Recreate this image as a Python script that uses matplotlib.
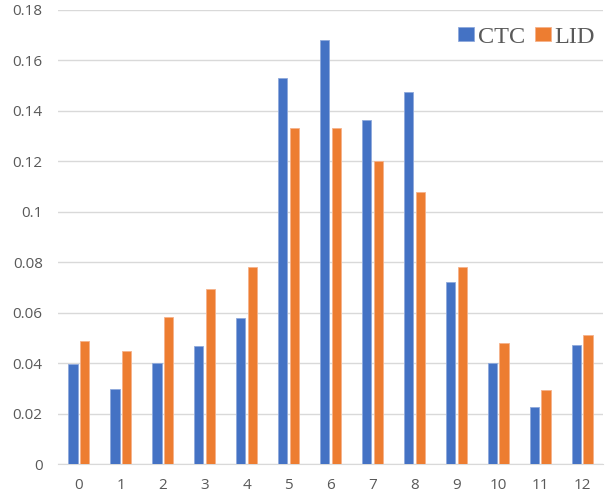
import matplotlib
matplotlib.use("Agg")
import matplotlib.pyplot as plt
import numpy as np

categories = ["0", "1", "2", "3", "4", "5", "6", "7", "8", "9", "10", "11", "12"]
ctc = [0.0397, 0.0298, 0.0401, 0.0467, 0.0579, 0.1530, 0.1681, 0.1365, 0.1473, 0.0722, 0.0401, 0.0226, 0.0470]
lid = [0.0489, 0.0447, 0.0583, 0.0693, 0.0782, 0.1333, 0.1333, 0.1201, 0.1079, 0.0782, 0.0481, 0.0294, 0.0511]
yticks = [0, 0.02, 0.04, 0.06, 0.08, 0.1, 0.12, 0.14, 0.16, 0.18]
ytick_labels = ["0", "0.02", "0.04", "0.06", "0.08", "0.1", "0.12", "0.14", "0.16", "0.18"]

blue = "#4472C4"
orange = "#ED7D31"

fig = plt.figure(figsize=(6.08, 4.95), dpi=100)
ax = fig.add_axes([0.0954, 0.0626, 0.8964, 0.9172])

x = np.arange(len(categories))
w = 0.22
off = 0.14
ax.bar(x - off, ctc, width=w, color=blue, edgecolor="#8fa9dc", linewidth=0.6, label="CTC", zorder=3)
ax.bar(x + off, lid, width=w, color=orange, edgecolor="#f5b28a", linewidth=0.6, label="LID", zorder=3)

ax.set_xlim(-0.5, len(categories) - 0.5)
ax.set_ylim(0, 0.18)
ax.set_yticks(yticks)
ax.set_yticklabels(ytick_labels)
ax.set_xticks(x)
ax.set_xticklabels(categories)
ax.grid(axis="y", color="#d9d9d9", linewidth=1.0, zorder=0)
for s in ["left", "right", "top"]:
    ax.spines[s].set_visible(False)
ax.spines["bottom"].set_color("#d9d9d9")
ax.tick_params(axis="both", length=0, labelcolor="#595959", labelsize=11)
for lab in ax.get_xticklabels() + ax.get_yticklabels():
    lab.set_family(["Open Sans", "DejaVu Sans"])
ax.tick_params(axis="y", pad=11)
ax.tick_params(axis="x", pad=10)

leg = ax.legend(loc="upper right", ncol=2, frameon=False, prop={"family": "Liberation Serif", "size": 17.5},
                handlelength=0.68, handleheight=0.5, handletextpad=0.15, columnspacing=0.4,
                bbox_to_anchor=(1.008, 0.99), borderaxespad=0.1)
for t in leg.get_texts():
    t.set_color("#595959")

fig.savefig("out.png", dpi=100)
